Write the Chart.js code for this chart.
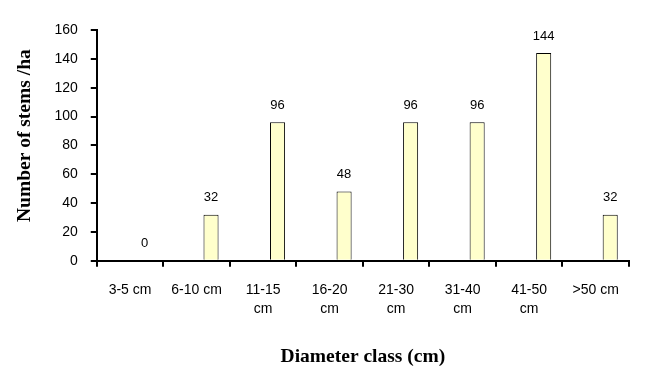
<!DOCTYPE html>
<html>
<head>
<meta charset="utf-8">
<script src="https://cdn.jsdelivr.net/npm/chart.js@4"></script>
<style>
  html, body { margin: 0; padding: 0; background: #fff; }
  #wrap { width: 645px; height: 375px; }
</style>
</head>
<body>
<div id="wrap"><canvas id="c"></canvas></div>
<script>
var classes = ['3-5 cm', '6-10 cm', ['11-15', 'cm'], ['16-20', 'cm'], ['21-30', 'cm'], ['31-40', 'cm'], ['41-50', 'cm'], '>50 cm'];
var stems = [0, 32, 96, 48, 96, 96, 144, 32];
// the original sheet has an empty first series, so bars sit right of centre
var emptySeries = [null, null, null, null, null, null, null, null];
var yTicks = [0, 20, 40, 60, 80, 100, 120, 140, 160];

// value labels above the bars
var barLabels = {
  id: 'barLabels',
  afterDatasetsDraw: function(chart) {
    var ctx = chart.ctx;
    var meta = chart.getDatasetMeta(1);
    ctx.save();
    ctx.font = '13px "Liberation Sans", Arial, sans-serif';
    ctx.fillStyle = '#000';
    ctx.textAlign = 'center';
    ctx.textBaseline = 'middle';
    meta.data.forEach(function(bar, i) {
      ctx.fillText(String(stems[i]), bar.x, bar.y - 17);
    });
    ctx.restore();
  }
};

var ctx = document.getElementById('c');
new Chart(ctx, {
  type: 'bar',
  data: {
    labels: classes,
    datasets: [
      { data: emptySeries, backgroundColor: 'rgba(0,0,0,0)' },
      {
        data: stems,
        backgroundColor: '#FFFFCC',
        borderColor: '#000',
        borderWidth: 1
      }
    ]
  },
  options: {
    responsive: true,
    maintainAspectRatio: false,
    animation: false,
    categoryPercentage: 0.87,
    barPercentage: 0.52,
    layout: { padding: { top: 30, right: 16, left: 13, bottom: 2 } },
    plugins: {
      legend: { display: false },
      tooltip: { enabled: false }
    },
    scales: {
      x: {
        grid: { drawOnChartArea: false, color: '#000', lineWidth: 2, tickLength: 6, offset: true },
        border: { color: '#000', width: 2 },
        ticks: {
          color: '#000',
          font: { family: '"Liberation Sans", Arial, sans-serif', size: 14, lineHeight: 1.35 },
          maxRotation: 0,
          autoSkip: false,
          padding: 14
        },
        title: {
          display: true,
          text: 'Diameter class (cm)',
          color: '#000',
          font: { family: '"Liberation Serif", "Times New Roman", serif', size: 19.5, weight: 'bold' },
          padding: { top: 13, bottom: 4 }
        }
      },
      y: {
        min: 0,
        max: 160,
        afterBuildTicks: function(scale) {
          scale.ticks = yTicks.map(function(v) { return { value: v }; });
        },
        grid: { drawOnChartArea: false, color: '#000', lineWidth: 2, tickLength: 6 },
        border: { color: '#000', width: 2 },
        ticks: {
          color: '#000',
          font: { family: '"Liberation Sans", Arial, sans-serif', size: 14 },
          padding: 13
        },
        title: {
          display: true,
          // leading spaces nudge the title up a little, as in the original
          text: '\u00a0\u00a0\u00a0\u00a0Number of stems /ha',
          color: '#000',
          font: { family: '"Liberation Serif", "Times New Roman", serif', size: 19.5, weight: 'bold' },
          padding: { top: 0, bottom: 5 }
        }
      }
    }
  },
  plugins: [barLabels]
});
</script>
</body>
</html>
